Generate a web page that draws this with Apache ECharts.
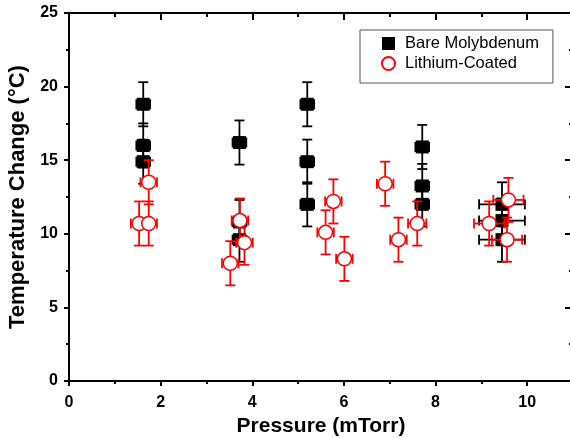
<!DOCTYPE html>
<html>
<head>
<meta charset="utf-8">
<script src="https://cdn.jsdelivr.net/npm/echarts@6/dist/echarts.min.js"></script>
<style>html,body{margin:0;padding:0;background:#fff}#c{width:570px;height:438px}</style>
</head>
<body>
<div id="c"></div>
<script>
// Bare Molybdenum
var bareX    = [1.62, 1.62, 1.62, 3.72, 3.72, 3.72, 5.2, 5.2, 5.2, 7.71, 7.71, 7.71, 9.45, 9.45, 9.45];
var bareY    = [18.8, 16.0, 14.9, 16.2, 10.8, 9.6, 18.8, 14.9, 12.0, 15.9, 13.25, 12.0, 12.0, 10.9, 9.6];
var bareXErr = [0.15, 0.15, 0.15, 0.15, 0.15, 0.15, 0.15, 0.15, 0.15, 0.15, 0.15, 0.15, 0.5, 0.5, 0.5];
var bareYErr = [1.5, 1.5, 1.5, 1.5, 1.5, 1.5, 1.5, 1.5, 1.5, 1.5, 1.5, 1.5, 1.5, 1.5, 1.5];
// Lithium-Coated
var liX    = [1.53, 1.74, 1.74, 3.52, 3.73, 3.83, 5.6, 5.77, 6.01, 6.9, 7.19, 7.6, 9.17, 9.59, 9.56];
var liY    = [10.7, 10.7, 13.5, 8.0, 10.9, 9.4, 10.1, 12.2, 8.3, 13.4, 9.6, 10.7, 10.7, 12.3, 9.6];
var liXErr = [0.18, 0.18, 0.18, 0.18, 0.18, 0.18, 0.18, 0.18, 0.18, 0.18, 0.18, 0.2, 0.33, 0.33, 0.33];
var liYErr = [1.5, 1.5, 1.5, 1.5, 1.5, 1.5, 1.5, 1.5, 1.5, 1.5, 1.5, 1.5, 1.5, 1.5, 1.5];
var xTicks = [0, 2, 4, 6, 8, 10];
var yTicks = [0, 5, 10, 15, 20, 25];

function zip(xs, ys, xe, ye) {
  var out = [];
  for (var i = 0; i < xs.length; i++) out.push([xs[i], ys[i], xe ? xe[i] : 0, ye ? ye[i] : 0]);
  return out;
}

function errRender(color) {
  return function (params, api) {
    var x = api.value(0), y = api.value(1), xe = api.value(2), ye = api.value(3);
    var l = api.coord([x - xe, y]), r = api.coord([x + xe, y]);
    var t = api.coord([x, y + ye]), b = api.coord([x, y - ye]);
    var st = {stroke: color, lineWidth: 1.8};
    var cap = 5;
    function ln(x1, y1, x2, y2) { return {type: 'line', shape: {x1: x1, y1: y1, x2: x2, y2: y2}, style: st}; }
    return {type: 'group', children: [
      ln(l[0], l[1], r[0], r[1]),
      ln(t[0], t[1], b[0], b[1]),
      ln(t[0] - cap, t[1], t[0] + cap, t[1]),
      ln(b[0] - cap, b[1], b[0] + cap, b[1]),
      ln(l[0], l[1] - cap, l[0], l[1] + cap),
      ln(r[0], r[1] - cap, r[0], r[1] + cap)
    ]};
  };
}

var font = '"Liberation Sans", Arial, sans-serif';
var chart = echarts.init(document.getElementById('c'));
var axisLine = {show: true, onZero: false, lineStyle: {color: '#000', width: 2}};
chart.setOption({
  animation: false,
  backgroundColor: '#fff',
  grid: {left: 69, top: 13, width: 504, bottom: 57, containLabel: false, outerBoundsMode: 'none'},
  legend: {
    orient: 'vertical', left: 360, top: 30,
    data: [{name: 'Bare Molybdenum', icon: 'rect'}, {name: 'Lithium-Coated', icon: 'circle'}],
    itemWidth: 13, itemHeight: 13, itemGap: 3,
    padding: [5, 14, 11, 21],
    borderColor: '#555', borderWidth: 1,
    textStyle: {fontFamily: font, fontSize: 16.5, color: '#000', padding: [0, 0, 0, 5]}
  },
  xAxis: [{
    type: 'value', min: 0, max: 11, interval: 2,
    name: 'Pressure (mTorr)', nameLocation: 'middle', nameGap: 28,
    nameTextStyle: {fontFamily: font, fontSize: 21, fontWeight: 'bold', color: '#000'},
    axisLine: axisLine,
    axisTick: {show: true, inside: false, length: 5, lineStyle: {width: 2, color: '#000'}},
    minorTick: {show: true, splitNumber: 2, length: 3, lineStyle: {width: 2, color: '#000'}},
    axisLabel: {margin: 14, fontFamily: font, fontSize: 16, fontWeight: 'bold', color: '#000',
      formatter: function (v) { return xTicks.indexOf(v) >= 0 ? String(v) : ''; }},
    splitLine: {show: false}
  }, {
    type: 'value', min: 0, max: 11, interval: 2, position: 'top',
    axisLine: axisLine,
    axisTick: {show: true, inside: true, length: 7, lineStyle: {width: 2, color: '#000'}},
    minorTick: {show: true, splitNumber: 2, length: 4, lineStyle: {width: 2, color: '#000'}},
    axisLabel: {show: false}, splitLine: {show: false}
  }],
  yAxis: [{
    type: 'value', min: 0, max: 25, interval: 5,
    name: 'Temperature Change (°C)', nameLocation: 'middle', nameGap: 34,
    nameTextStyle: {fontFamily: font, fontSize: 22, fontWeight: 'bold', color: '#000'},
    axisLine: axisLine,
    axisTick: {show: true, inside: false, length: 5, lineStyle: {width: 2, color: '#000'}},
    minorTick: {show: true, splitNumber: 2, length: 3, lineStyle: {width: 2, color: '#000'}},
    axisLabel: {margin: 11, fontFamily: font, fontSize: 16, fontWeight: 'bold', color: '#000',
      formatter: function (v) { return yTicks.indexOf(v) >= 0 ? String(v) : ''; }},
    splitLine: {show: false}
  }, {
    type: 'value', min: 0, max: 25, interval: 5, position: 'right',
    axisLine: axisLine,
    axisTick: {show: true, inside: true, length: 8, lineStyle: {width: 2, color: '#000'}},
    minorTick: {show: true, splitNumber: 2, length: 4, lineStyle: {width: 2, color: '#000'}},
    axisLabel: {show: false}, splitLine: {show: false}
  }],
  series: [{
    name: 'bareErr', type: 'custom', z: 2, clip: false,
    renderItem: errRender('#000'),
    encode: {x: 0, y: 1},
    data: zip(bareX, bareY, bareXErr, bareYErr)
  }, {
    name: 'Bare Molybdenum', type: 'scatter', z: 3,
    symbol: 'rect', symbolSize: 13,
    itemStyle: {color: '#000', opacity: 1},
    data: zip(bareX, bareY).map(function (d) { return [d[0], d[1]]; })
  }, {
    name: 'liErr', type: 'custom', z: 4, clip: false,
    renderItem: errRender('#f00'),
    encode: {x: 0, y: 1},
    data: zip(liX, liY, liXErr, liYErr)
  }, {
    name: 'Lithium-Coated', type: 'scatter', z: 5,
    symbol: 'circle', symbolSize: 14,
    itemStyle: {color: '#fff', borderColor: '#f00', borderWidth: 1.5, opacity: 1},
    data: zip(liX, liY).map(function (d) { return [d[0], d[1]]; })
  }]
});
</script>
</body>
</html>
